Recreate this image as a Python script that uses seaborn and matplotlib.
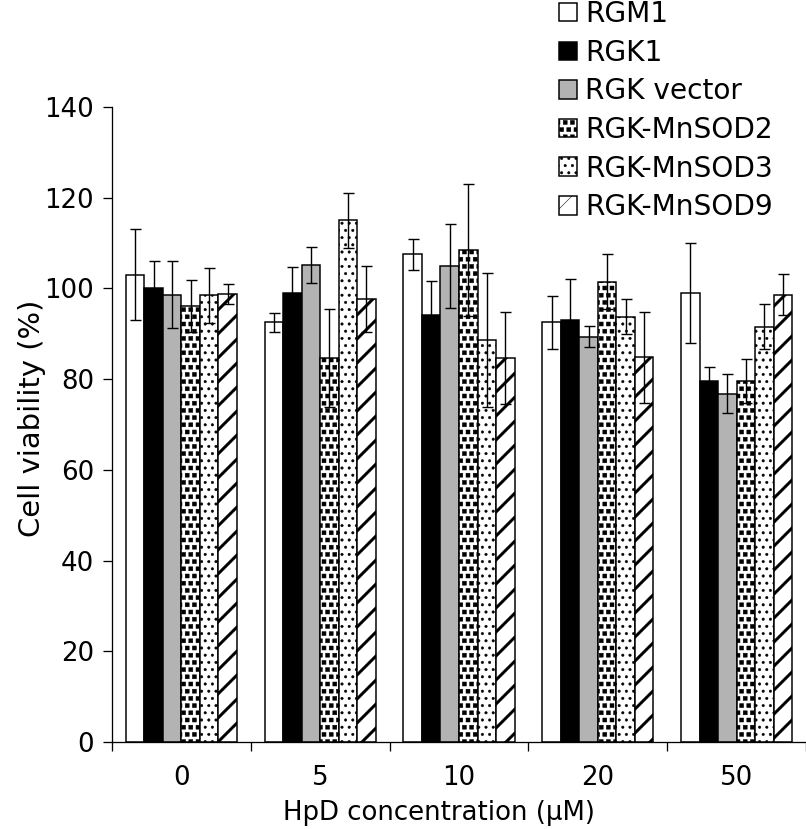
import numpy as np
import pandas as pd
import matplotlib
matplotlib.use("Agg")
import matplotlib.pyplot as plt
import matplotlib.patches as mpatches
from matplotlib import hatch as mhatch
from matplotlib.path import Path as MPath
import seaborn as sns

### Data
concs = ["0", "5", "10", "20", "50"]
lines = ["RGM1", "RGK1", "RGK vector", "RGK-MnSOD2", "RGK-MnSOD3", "RGK-MnSOD9"]

rgm1 = [103.0, 92.5, 107.5, 92.5, 99.0]
rgm1_err = [10.0, 2.1, 3.4, 5.9, 11.0]
rgk1 = [100.0, 99.0, 94.2, 93.0, 79.6]
rgk1_err = [6.0, 5.8, 7.5, 9.0, 3.0]
rgk_vec = [98.6, 105.1, 105.0, 89.4, 76.8]
rgk_vec_err = [7.4, 4.0, 9.3, 2.4, 4.3]
sod2 = [96.1, 84.6, 108.5, 101.5, 79.6]
sod2_err = [5.8, 10.8, 14.5, 6.0, 4.8]
sod3 = [98.5, 115.0, 88.6, 93.8, 91.6]
sod3_err = [6.1, 6.0, 14.7, 3.9, 5.0]
sod9 = [98.8, 97.7, 84.7, 84.8, 98.6]
sod9_err = [2.2, 7.3, 10.2, 10.0, 4.5]

means = [rgm1, rgk1, rgk_vec, sod2, sod3, sod9]
errs = [rgm1_err, rgk1_err, rgk_vec_err, sod2_err, sod3_err, sod9_err]

colors = ["white", "black", "#b3b3b3", "white", "white", "white"]
hatches = ["", "", "", "*", ".", "/"]
hatch_lws = [1.0, 1.0, 1.0, 0.5, 0.5, 3.0]


### Custom hatches: filled squares ('*') and a denser dot grid ('.')
class SquareHatch(mhatch.Shapes):
    size = 0.55
    filled = True

    def __init__(self, hatch, density):
        # Shapes needs an even number of rows
        self.num_rows = 2 * int(round(hatch.count("*") * density * 5 / 6))
        rect = MPath.unit_rectangle()
        self.shape_vertices = rect.vertices - 0.5
        self.shape_codes = rect.codes
        super().__init__(hatch, density)


class DotHatch(mhatch.Circles):
    size = 0.17
    filled = True

    def __init__(self, hatch, density):
        self.num_rows = 2 * int(round(hatch.count(".") * density * 5 / 6))
        super().__init__(hatch, density)


swap = {mhatch.Stars: SquareHatch, mhatch.SmallFilledCircles: DotHatch}
mhatch._hatch_types = [swap.get(t, t) for t in mhatch._hatch_types]

df = pd.DataFrame({
    "conc": np.tile(concs, len(lines)),
    "line": np.repeat(lines, len(concs)),
    "viability": np.concatenate(means),
})

sns.set_style("ticks")
plt.rcParams["font.family"] = ["DejaVu Sans"]
plt.rcParams["hatch.linewidth"] = 0.5
for k in ["text.color", "axes.labelcolor", "xtick.color", "ytick.color", "axes.edgecolor"]:
    plt.rcParams[k] = "black"

fig = plt.figure(figsize=(806 / 72, 829 / 72), dpi=72)
ax = fig.add_axes([112 / 806, 87 / 829, 694 / 806, 635 / 829])

sns.barplot(data=df, x="conc", y="viability", hue="line", order=concs, hue_order=lines,
            palette=colors, saturation=1, errorbar=None, edgecolor="black",
            linewidth=1.5, width=0.8, legend=False, ax=ax)

for cont, h, hlw in zip(ax.containers, hatches, hatch_lws):
    for bar in cont:
        bar.set_hatch(h)
        if hasattr(bar, "set_hatch_linewidth"):
            bar.set_hatch_linewidth(hlw)

for cont, cur_mean, cur_err in zip(list(ax.containers), means, errs):
    x = [b.get_x() + b.get_width() / 2 for b in cont]
    ax.errorbar(x, cur_mean, yerr=cur_err, fmt="none", ecolor="black",
                elinewidth=1.4, capsize=5.5, capthick=1.4, zorder=3)

ax.set_xlim(-0.5, 4.5)
ax.set_ylim(0, 140)
ax.set_yticks(np.arange(0, 141, 20))
ax.set_xticks(np.arange(-0.5, 5, 1), minor=True)
ax.tick_params(axis="x", which="major", length=0, pad=23, labelsize=26)
ax.tick_params(axis="x", which="minor", length=9, width=1.3, direction="out")
ax.tick_params(axis="y", length=9, width=1.3, pad=9, labelsize=26)
for sp in ["left", "bottom"]:
    ax.spines[sp].set_linewidth(1.3)
sns.despine(ax=ax)

ax.set_xlabel("HpD concentration (μM)", fontsize=26)
ax.set_ylabel("Cell viability (%)", fontsize=29)
ax.xaxis.set_label_coords(0.471, -0.092)
ax.yaxis.set_label_coords(-0.095, 0.51)

handles = []
for c, h, hlw in zip(colors, hatches, hatch_lws):
    p = mpatches.Patch(facecolor=c, edgecolor="black", hatch=h, linewidth=1.5)
    if hasattr(p, "set_hatch_linewidth"):
        p.set_hatch_linewidth(hlw)
    handles.append(p)

fig.legend(handles, lines, loc="upper left", bbox_to_anchor=(559 / 806, 1.0),
           frameon=False, fontsize=28, handlelength=0.64, handleheight=0.64,
           handletextpad=0.3, labelspacing=0.38, borderpad=0.0, borderaxespad=0)

fig.savefig("out.png", dpi=72)
